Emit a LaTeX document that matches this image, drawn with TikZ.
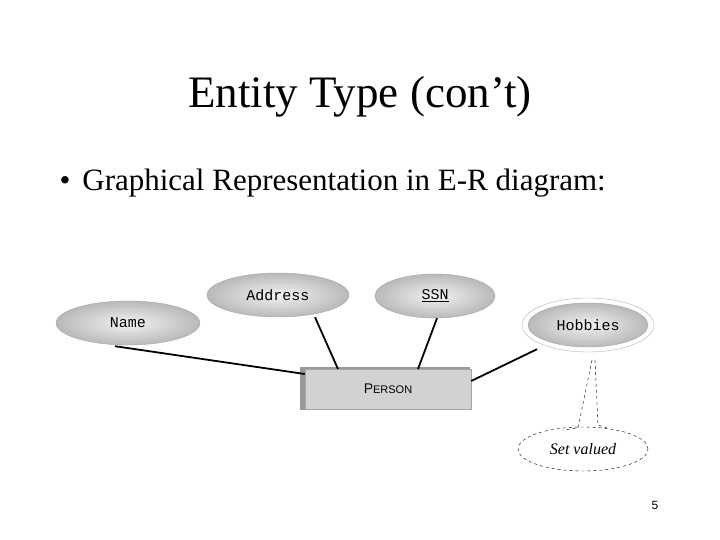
\documentclass[tikz,border=0pt]{standalone}
\usepackage{fontspec}
\setmainfont{Liberation Serif}
\newfontfamily\monof{Liberation Mono}
\newfontfamily\sansf{Liberation Sans}
\usetikzlibrary{shapes.geometric}
\begin{document}
\begin{tikzpicture}[x=1pt,y=-1pt,
  attr/.style={ellipse,draw=gray!70,shade,inner color=gray!10,outer color=gray!55,font=\monof\fontsize{15}{15}\selectfont},
  conn/.style={line width=1.8pt},
  dsh/.style={dashed,thin}]
\useasboundingbox[fill=white] (0,0) rectangle (720,540);
\node[font=\fontsize{45}{45}\selectfont] (title) at (360,97) {Entity Type (con’t)};
\node[anchor=west,font=\fontsize{31}{31}\selectfont] (bul) at (56,183) {•\hspace{12pt}Graphical Representation in E-R diagram:};
\node[attr,minimum width=144,minimum height=44] (name) at (128,323) {Name};
\node[attr,minimum width=142,minimum height=44] (addr) at (278,295) {Address};
\node[attr,minimum width=120,minimum height=44] (ssn) at (435,296) {\underline{SSN}};
\node[ellipse,draw=gray!60,fill=white,minimum width=132,minimum height=54] (hobo) at (588,325) {};
\node[attr,minimum width=120,minimum height=44] (hob) at (588,325) {Hobbies};
\fill[gray!80] (300,367) rectangle (470,410);
\node[draw=gray!70,fill=gray!35,minimum width=166,minimum height=40,inner sep=0,font=\sansf\fontsize{14}{14}\selectfont] (p) at (388,389) {P{\fontsize{11}{11}\selectfont ERSON}};
\draw[conn] (name.south) ++(-13,1) coordinate (n1) (n1) -- (p.west|-0,374);
\draw[conn] (addr.south) ++(37,0) -- (338,369);
\draw[conn] (ssn.south) ++(2,0) -- (418,369);
\draw[conn] (hobo.south) ++(-51,-3) -- (p.east|-0,381);
\node[ellipse,dashed,draw,minimum width=130,minimum height=44,font=\itshape\fontsize{16}{16}\selectfont] (sv) at (583,449) {Set valued};
\coordinate (tip) at (592,360);
\draw[dsh] (tip) -- (578,428) -- (563,430);
\draw[dsh] (tip)++(3,0) coordinate (tip2) (tip2) -- (598,425) -- (610,429);
\node[font=\sansf\fontsize{12}{12}\selectfont] (pg) at (655,505) {5};
\end{tikzpicture}
\end{document}
